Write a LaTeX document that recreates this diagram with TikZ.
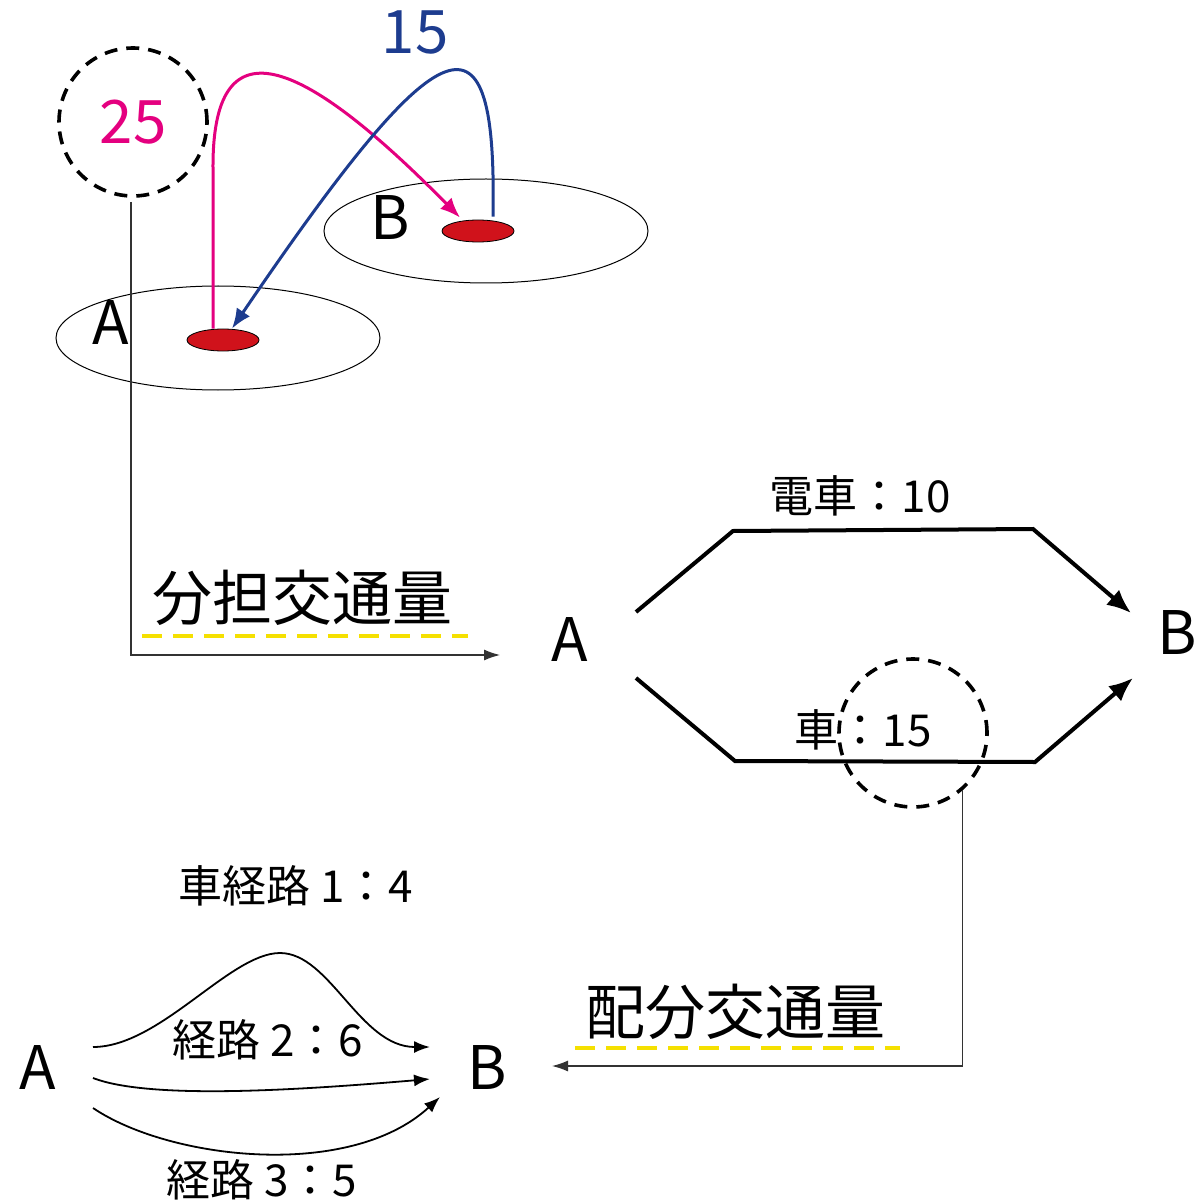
\documentclass[tikz,border=0pt]{standalone}
\usepackage{fontspec}
\setmainfont{Noto Sans CJK JP}
\usetikzlibrary{arrows.meta, positioning, calc, shapes.geometric}
\definecolor{odpink}{HTML}{E4007F}
\definecolor{odblue}{HTML}{1D3C8F}
\definecolor{zonered}{HTML}{D0121B}
\definecolor{markyellow}{HTML}{F5E000}

\begin{document}
\begin{tikzpicture}[
    x=0.5pt, y=-0.5pt,
    letter/.style={font=\fontsize{30}{36}\selectfont, inner sep=0pt},
    label/.style={font=\fontsize{22}{26}\selectfont, inner sep=0pt},
    zone/.style={ellipse, draw, line width=0.5pt, minimum width=162pt, minimum height=52pt, inner sep=0pt},
    stop/.style={ellipse, draw, fill=zonered, line width=0.4pt, minimum width=36pt, minimum height=11pt, inner sep=0pt},
    tally/.style={circle, draw, dash pattern=on 6.5pt off 4.5pt, line width=1.8pt, minimum size=74pt, inner sep=0pt},
    route/.style={line width=2pt, -{Latex[length=12pt,width=10pt]}},
    path/.style={line width=0.9pt, -{Latex[length=8pt,width=6pt]}},
    flow/.style={line width=1.5pt, -{Latex[length=10pt,width=8pt]}},
    leader/.style={line width=0.6pt, draw=black!80, -{Latex[length=8pt,width=5.5pt]}},
    marker/.style={draw=markyellow, line width=2pt, dash pattern=on 10pt off 5.5pt}
]
    \useasboundingbox (0,0) rectangle (1202,1203);

    \node [zone] (zoneB) at (486,231) {};
    \node [zone] (zoneA) at (218,338) {};
    \node [stop] (stopB) at (478,231) {};
    \node [stop] (stopA) at (223,340) {};
    \node [letter] (nameB) at (390,218) {B};
    \node [letter] (nameA) at (111,323) {A};
    \node [tally, letter, text=odpink] (c25) at (133,122) {25};
    \node [letter, text=odblue] (n15) at (415,33) {15};

    \draw [flow, odpink] ($(stopA.north)+(-10,0)$) -- ++(0,-160) .. controls (212,20) and (300,55) .. ($(stopB.north)+(-18,-2)$);
    \draw [flow, odblue] ($(stopB.north)+(15,-3)$) .. controls (497,0) and (445,15) .. ($(stopA.north)+(9,0)$);

    \node [letter] (modal) at (302,598) {分担交通量};
    \draw [marker] (142,636) -- (468,636);
    \coordinate (split) at (500,655);
    \draw [leader] ($(c25.south)+(-2,4)$) |- (split);

    \node [letter] (midA) at (570,640) {A};
    \node [letter] (midB) at (1177,633) {B};
    \coordinate (t1) at (636,612);
    \coordinate (t2) at (733,531);
    \coordinate (t3) at (1033,529);
    \coordinate (t4) at (1131,613);
    \coordinate (k1) at (636,678);
    \coordinate (k2) at (735,761);
    \coordinate (k3) at (1035,762);
    \coordinate (k4) at (1133,678);
    \draw [route] (t1) -- (t2) -- (t3) -- (t4);
    \draw [route] (k1) -- (k2) -- (k3) -- (k4);
    \node [label] (train) at (860,496) {電車：10};
    \node [label] (car) at (863,730) {車：15};
    \node [tally] (c15) at (913,733) {};

    \node [letter] (assigned) at (735,1012) {配分交通量};
    \draw [marker] (575,1048) -- (900,1048);
    \coordinate (merge) at (552,1066);
    \draw [leader] (c15.-49) |- (merge);

    \node [letter] (botA) at (38,1067) {A};
    \node [letter] (botB) at (487,1067) {B};
    \coordinate (r1) at (93,1047);
    \coordinate (r2) at (93,1078);
    \coordinate (r3) at (93,1108);
    \coordinate (e1) at (430,1047);
    \coordinate (e2) at (430,1079);
    \coordinate (e3) at (440,1097);
    \draw [path] (r1) .. controls (160,1047) and (230,953) .. (280,953) .. controls (330,953) and (360,1047) .. (e1);
    \draw [path] (r2) .. controls (150,1100) and (300,1090) .. (e2);
    \draw [path] (r3) .. controls (170,1160) and (350,1180) .. (e3);
    \node [label] (route1) at (296,886) {車経路 1：4};
    \node [label] (route2) at (268,1040) {経路 2：6};
    \node [label] (route3) at (262,1180) {経路 3：5};
\end{tikzpicture}
\end{document}
